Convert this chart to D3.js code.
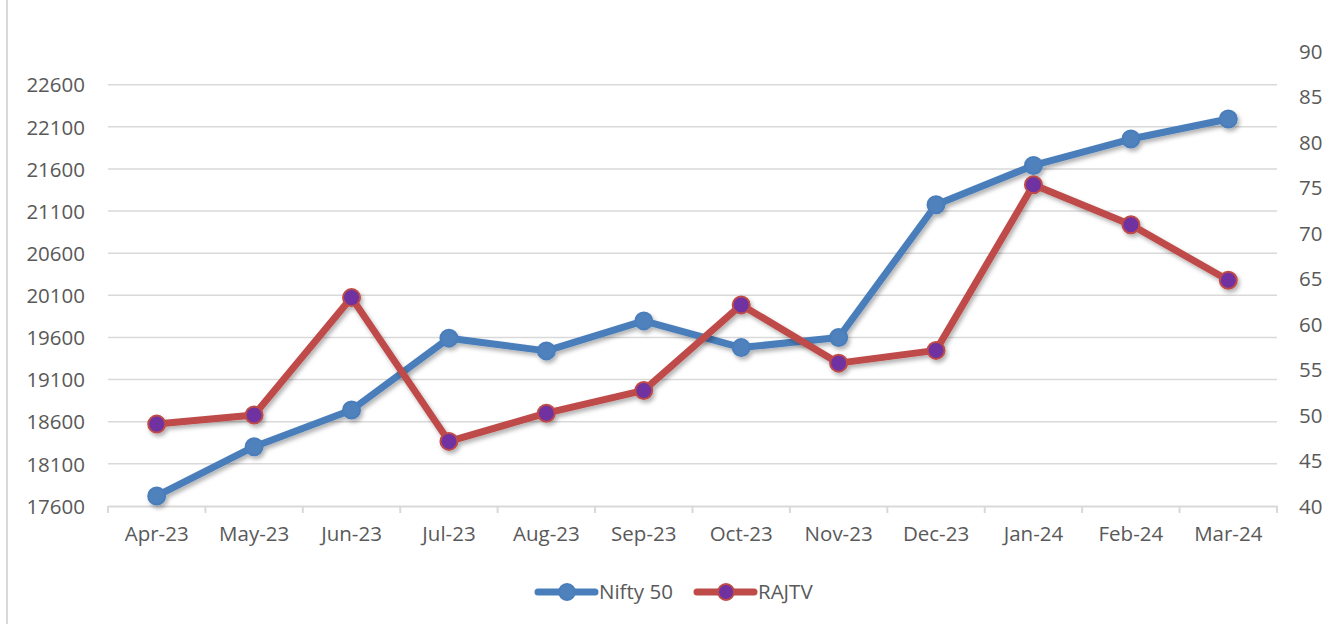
<!DOCTYPE html>
<html>
<head>
<meta charset="utf-8">
<script src="https://cdn.jsdelivr.net/npm/d3@7"></script>
<style>
  body { margin: 0; background: #fff; }
  svg text { font-family: "Open Sans", sans-serif; fill: #595959; }
</style>
</head>
<body>
<svg id="chart" width="1338" height="624"></svg>
<script>
const months = ["Apr-23","May-23","Jun-23","Jul-23","Aug-23","Sep-23","Oct-23","Nov-23","Dec-23","Jan-24","Feb-24","Mar-24"];
const nifty = [17719, 18304, 18740, 19592, 19441, 19797, 19480, 19599, 21175, 21642, 21955, 22193];
const rajtv = [49.0, 50.0, 62.9, 47.1, 50.2, 52.7, 62.1, 55.7, 57.1, 75.3, 70.9, 64.8];
const leftTicks = [17600, 18100, 18600, 19100, 19600, 20100, 20600, 21100, 21600, 22100, 22600];
const rightTicks = [40, 45, 50, 55, 60, 65, 70, 75, 80, 85, 90];

const svg = d3.select("#chart");
const plot = {left: 108, right: 1277, top: 51, bottom: 506};

const x = d3.scaleBand().domain(months).range([plot.left, plot.right]);
const yL = d3.scaleLinear().domain([17600, 23000]).range([plot.bottom, plot.top]);
const yR = d3.scaleLinear().domain([40, 90]).range([plot.bottom, plot.top]);
const cx = d => x(d) + x.bandwidth() / 2;

// shadow filter for the lines
const defs = svg.append("defs");
defs.append("filter").attr("id", "shadow")
  .attr("x", "-5%").attr("y", "-5%").attr("width", "110%").attr("height", "120%")
  .append("feDropShadow")
  .attr("dx", 2).attr("dy", 3).attr("stdDeviation", 2)
  .attr("flood-color", "#000").attr("flood-opacity", 0.3);

// chart border (left edge visible)
svg.append("line")
  .attr("x1", 7).attr("x2", 7).attr("y1", 0).attr("y2", 624)
  .attr("stroke", "#D9D9D9").attr("stroke-width", 2);

// gridlines
svg.append("g").selectAll("line").data(leftTicks.slice(1)).join("line")
  .attr("x1", plot.left).attr("x2", plot.right)
  .attr("y1", d => yL(d)).attr("y2", d => yL(d))
  .attr("stroke", "#D9D9D9").attr("stroke-width", 1.5);

// left axis
const axL = svg.append("g").attr("transform", `translate(${plot.left},0)`)
  .call(d3.axisLeft(yL).tickValues(leftTicks).tickFormat(d3.format("d")).tickSize(0).tickPadding(23));
axL.select(".domain").remove();
axL.selectAll("text").style("font-size", "20.5px").attr("dy", "0.35em");

// right axis
const axR = svg.append("g").attr("transform", `translate(${plot.right},0)`)
  .call(d3.axisRight(yR).tickValues(rightTicks).tickSize(0).tickPadding(22));
axR.select(".domain").remove();
axR.selectAll("text").style("font-size", "20.5px").attr("dy", "0.35em");

// category axis
const axX = svg.append("g").attr("transform", `translate(0,${plot.bottom})`)
  .call(d3.axisBottom(x).tickSize(0).tickPadding(20));
axX.select(".domain").attr("stroke", "#D9D9D9").attr("stroke-width", 2);
axX.selectAll("text").style("font-size", "20.5px").attr("dy", "0.71em");
const bounds = months.map(m => x(m)).concat([plot.right]);
axX.selectAll("line.tk").data(bounds).join("line").attr("class", "tk")
  .attr("x1", d => d).attr("x2", d => d).attr("y1", 0).attr("y2", 7)
  .attr("stroke", "#D9D9D9").attr("stroke-width", 2);

function drawSeries(values, y, lineColor, markerFill, markerStroke) {
  const g = svg.append("g").attr("filter", "url(#shadow)");
  const line = d3.line().x((d, i) => cx(months[i])).y(d => y(d));
  g.append("path").datum(values)
    .attr("d", line).attr("fill", "none")
    .attr("stroke", lineColor).attr("stroke-width", 7)
    .attr("stroke-linejoin", "round").attr("stroke-linecap", "round");
  g.selectAll("circle").data(values).join("circle")
    .attr("cx", (d, i) => cx(months[i])).attr("cy", d => y(d))
    .attr("r", 8.5).attr("fill", markerFill)
    .attr("stroke", markerStroke).attr("stroke-width", 2);
}

drawSeries(nifty, yL, "#4A7EBB", "#4F81BD", "#4A7EBB");
drawSeries(rajtv, yR, "#BE4B48", "#7030A0", "#BE4B48");

// legend
const legend = [
  {name: "Nifty 50", x: 538, line: "#4A7EBB", fill: "#4F81BD", stroke: "#4A7EBB"},
  {name: "RAJTV", x: 697, line: "#BE4B48", fill: "#7030A0", stroke: "#BE4B48"}
];
const lg = svg.append("g").selectAll("g").data(legend).join("g")
  .attr("transform", d => `translate(${d.x},592)`);
lg.append("line").attr("x1", 0).attr("x2", 57).attr("y1", 0).attr("y2", 0)
  .attr("stroke", d => d.line).attr("stroke-width", 7).attr("stroke-linecap", "round");
lg.append("circle").attr("cx", 29).attr("cy", 0).attr("r", 8)
  .attr("fill", d => d.fill).attr("stroke", d => d.stroke).attr("stroke-width", 2);
lg.append("text").attr("x", 61).attr("y", 0).attr("dy", "0.35em")
  .style("font-size", "20.5px").text(d => d.name);
</script>
</body>
</html>
